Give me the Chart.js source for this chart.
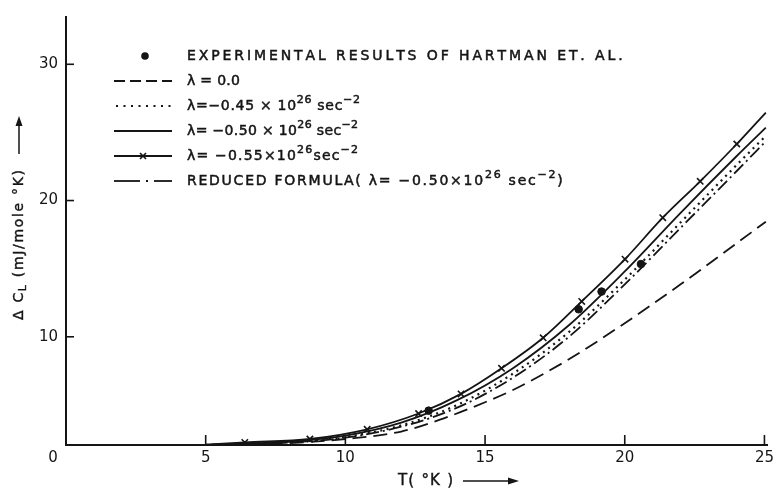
<!DOCTYPE html>
<html>
<head>
<meta charset="utf-8">
<title>Lattice specific heat difference</title>
<script src="https://cdn.jsdelivr.net/npm/chart.js@4.4.1/dist/chart.umd.min.js"></script>
<style>
  html, body { margin: 0; padding: 0; background: #fff; }
  #wrap { width: 778px; height: 489px; }
</style>
</head>
<body>
<div id="wrap"><canvas id="heatChart" width="778" height="489"></canvas></div>
<script>
const tempMarked = [5, 6.4, 8.73, 10.78, 12.62, 14.14, 15.59, 17.08, 18.46, 20.01, 21.36, 22.7, 24.01, 25.05];
const tempGrid = [5, 8, 10, 12, 14, 16, 18, 20, 22, 24, 25.05];
const tempFree = [5, 8, 10, 12, 13.5, 15, 16, 18, 20, 22, 23.5, 25.05];

// ΔC_L values (mJ/mole °K)
const lambda055 = [2.08, 2.25, 2.5, 3.21, 4.37, 5.81, 7.69, 9.93, 12.6, 15.7, 18.74, 21.41, 24.15, 26.46];
const lambda050 = [2.07, 2.3, 2.75, 3.7, 5.35, 7.7, 10.85, 14.8, 19.1, 23.25, 25.35];
const lambda045 = [2.06, 2.28, 2.65, 3.5, 5.0, 7.3, 10.35, 14.2, 18.4, 22.6, 24.75];
const reduced050 = [2.06, 2.25, 2.6, 3.4, 4.8, 7.0, 10.0, 13.85, 18.0, 22.15, 24.35];
const lambda00 = [2.06, 2.2, 2.5, 3.05, 4.0, 5.2, 6.1, 8.35, 11.0, 13.85, 16.1, 18.45];

// experimental points (Hartman et al.)
const expTemp = [12.98, 18.35, 19.17, 20.58];
const expValue = [4.58, 12.02, 13.32, 15.34];

const xTicks = [0, 5, 10, 15, 20, 25];
const yTicks = [10, 20, 30];

const INK = '#151515';
const FONT = '"DejaVu Sans", sans-serif';

function pairs(xs, ys) {
    return xs.map((x, i) => ({ x: x, y: ys[i] }));
}

function curve(label, xs, ys, dash, extra) {
    return Object.assign({
        label: label,
        data: pairs(xs, ys),
        showLine: true,
        borderColor: INK,
        backgroundColor: INK,
        borderWidth: 1.8,
        borderDash: dash,
        pointRadius: 0,
        cubicInterpolationMode: 'monotone',
        fill: false
    }, extra || {});
}

function segFont(s, size) {
    return ((s.sup || s.sub) ? Math.round(size * 0.8) : size) + 'px ' + FONT;
}

// segments: {t, sup, sub}; letters are spread so the line ends near 'width'
function richText(ctx, segs, x, y, size, width) {
    let natural = 0, count = 0;
    segs.forEach(s => {
        ctx.font = segFont(s, size);
        natural += ctx.measureText(s.t).width;
        count += [...s.t].length;
    });
    const gap = width ? Math.max(0, (width - natural) / (count - 1)) : 0.5;
    segs.forEach(s => {
        ctx.font = segFont(s, size);
        const dy = s.sup ? -size * 0.42 : (s.sub ? size * 0.3 : 0);
        for (const ch of s.t) {
            ctx.fillText(ch, x, y + dy);
            ctx.strokeText(ch, x, y + dy);
            x += ctx.measureText(ch).width + gap;
        }
    });
    return x;
}

function stroke(ctx, x1, y1, x2, y2, dash, width) {
    ctx.save();
    ctx.setLineDash(dash || []);
    ctx.lineWidth = width || 1.8;
    ctx.beginPath();
    ctx.moveTo(x1, y1);
    ctx.lineTo(x2, y2);
    ctx.stroke();
    ctx.restore();
}

function drawCross(ctx, x, y, r) {
    stroke(ctx, x - r, y - r, x + r, y + r, [], 1.6);
    stroke(ctx, x - r, y + r, x + r, y - r, [], 1.6);
}

function drawLegend(ctx) {
    const x0 = 114, x1 = 172, tx = 187;
    const rows = [56, 81, 106, 131, 156, 181];
    const size = 14;

    // samples
    ctx.beginPath();
    ctx.arc(145, rows[0], 3.8, 0, Math.PI * 2);
    ctx.fill();
    stroke(ctx, x0, rows[1], x1, rows[1], [11, 5]);
    stroke(ctx, x0 + 2, rows[2], x1, rows[2], [2, 5.5], 2.2);
    stroke(ctx, x0, rows[3], x1, rows[3]);
    stroke(ctx, x0, rows[4], x1, rows[4]);
    drawCross(ctx, 143, rows[4], 3);
    stroke(ctx, x0, rows[5], 140, rows[5]);
    stroke(ctx, 146, rows[5], 148, rows[5]);
    stroke(ctx, 154, rows[5], x1, rows[5]);

    // labels
    ctx.lineWidth = 0.5;
    richText(ctx, [{ t: 'EXPERIMENTAL RESULTS OF HARTMAN ET. AL.' }], tx, rows[0], size, 430);
    richText(ctx, [{ t: 'λ = 0.0' }], tx, rows[1], size, 53);
    richText(ctx, [{ t: 'λ=−0.45 × 10' }, { t: '26', sup: true }, { t: ' sec' }, { t: '−2', sup: true }], tx, rows[2], size, 173);
    richText(ctx, [{ t: 'λ= −0.50 × 10' }, { t: '26', sup: true }, { t: ' sec' }, { t: '−2', sup: true }], tx, rows[3], size, 171);
    richText(ctx, [{ t: 'λ= −0.55×10' }, { t: '26', sup: true }, { t: 'sec' }, { t: '−2', sup: true }], tx, rows[4], size, 171);
    richText(ctx, [{ t: 'REDUCED FORMULA( λ= −0.50×10' }, { t: '26', sup: true }, { t: ' sec' }, { t: '−2', sup: true }, { t: ')' }], tx, rows[5], size, 376);
}

const paperPlugin = {
    id: 'paper',
    afterDraw(chart) {
        const ctx = chart.ctx;
        const area = chart.chartArea;
        const xs = chart.scales.x;
        const ys = chart.scales.y;
        ctx.save();
        ctx.strokeStyle = INK;
        ctx.fillStyle = INK;
        ctx.textBaseline = 'middle';
        ctx.textAlign = 'left';

        // inward tick marks
        xTicks.filter(v => v > 0).forEach(v => {
            const px = xs.getPixelForValue(v);
            stroke(ctx, px, area.bottom, px, area.bottom - 10, [], 1.6);
        });
        yTicks.forEach(v => {
            const py = ys.getPixelForValue(v);
            stroke(ctx, area.left, py, area.left + 8, py, [], 1.6);
        });

        // origin label
        ctx.font = '15px ' + FONT;
        ctx.textAlign = 'center';
        ctx.fillText('0', area.left - 13, area.bottom + 13);
        ctx.textAlign = 'left';

        ctx.lineWidth = 0.4;
        // x axis title with arrow
        richText(ctx, [{ t: 'T' }, { t: '( °K )' }], 398, 481, 15, 55);
        stroke(ctx, 463, 481, 515, 481, [], 1.5);
        ctx.beginPath();
        ctx.moveTo(519, 481);
        ctx.lineTo(508, 477.5);
        ctx.lineTo(508, 484.5);
        ctx.closePath();
        ctx.fill();

        // y axis title, rotated, with arrow
        ctx.save();
        ctx.translate(19, 320);
        ctx.rotate(-Math.PI / 2);
        ctx.lineWidth = 0.4;
        richText(ctx, [{ t: 'Δ C' }, { t: 'L', sub: true }, { t: ' (mJ/mole °K)' }], 0, 0, 14, 150);
        stroke(ctx, 166, 0, 200, 0, [], 1.5);
        ctx.beginPath();
        ctx.moveTo(204, 0);
        ctx.lineTo(194, -3.5);
        ctx.lineTo(194, 3.5);
        ctx.closePath();
        ctx.fill();
        ctx.restore();

        drawLegend(ctx);
        ctx.restore();
    }
};

function createChart() {
    const ctx = document.getElementById('heatChart').getContext('2d');
    const lastMarked = tempMarked.length - 1;

    new Chart(ctx, {
        type: 'scatter',
        data: {
            datasets: [
                curve('λ=0.0', tempFree, lambda00, [14, 7]),
                curve('λ=-0.45', tempGrid, lambda045, [2, 4.5], { borderWidth: 2.2 }),
                curve('λ=-0.50', tempGrid, lambda050, []),
                curve('λ=-0.55', tempMarked, lambda055, [], {
                    pointStyle: 'crossRot',
                    pointRadius: c => (c.dataIndex === 0 || c.dataIndex === lastMarked) ? 0 : 4.5,
                    pointBorderWidth: 1.6,
                    pointBorderColor: INK
                }),
                curve('reduced', tempGrid, reduced050, [13, 4, 2, 4]),
                {
                    label: 'Hartman et al.',
                    data: pairs(expTemp, expValue),
                    showLine: false,
                    pointStyle: 'circle',
                    pointRadius: 3.8,
                    backgroundColor: INK,
                    borderColor: INK
                }
            ]
        },
        options: {
            responsive: false,
            animation: false,
            layout: { padding: { top: 10, right: 2, left: 0, bottom: 0 } },
            plugins: {
                legend: { display: false },
                title: { display: false },
                tooltip: { enabled: false }
            },
            scales: {
                x: {
                    type: 'linear',
                    min: 0,
                    max: 25.1,
                    afterBuildTicks: s => { s.ticks = xTicks.map(v => ({ value: v })); },
                    afterFit: s => { s.height = 44; },
                    grid: { display: false, drawTicks: false },
                    border: { display: true, color: INK, width: 2 },
                    ticks: {
                        color: INK,
                        padding: 4,
                        maxRotation: 0,
                        font: { family: 'DejaVu Sans', size: 15 },
                        callback: v => v === 0 ? '' : String(v)
                    }
                },
                y: {
                    type: 'linear',
                    min: 2.06,
                    max: 33.47,
                    afterBuildTicks: s => { s.ticks = yTicks.map(v => ({ value: v })); },
                    afterFit: s => { s.width = 66; },
                    grid: { display: false, drawTicks: false },
                    border: { display: true, color: INK, width: 2 },
                    ticks: {
                        color: INK,
                        padding: 8,
                        font: { family: 'DejaVu Sans', size: 15 }
                    }
                }
            }
        },
        plugins: [paperPlugin]
    });
}

document.addEventListener('DOMContentLoaded', createChart);
</script>
</body>
</html>
